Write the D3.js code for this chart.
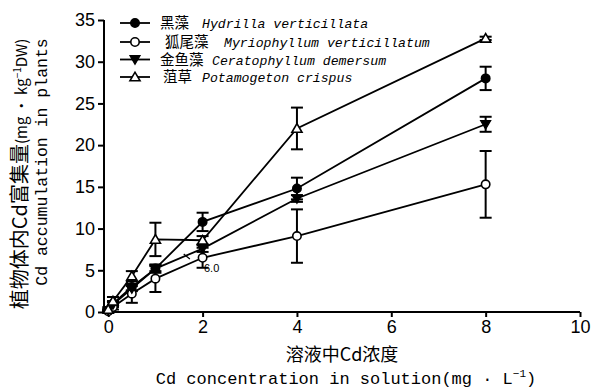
<!DOCTYPE html>
<html><head><meta charset="utf-8">
<script src="https://cdn.jsdelivr.net/npm/d3@7"></script>
<style>body{margin:0;background:#fff}svg{display:block}</style>
</head><body>
<svg id="c" width="599" height="389"></svg>
<script>
const xValues = [0, 0.1, 0.5, 1, 2, 4, 8];
const hydrilla = [0.2, 1.0, 3.0, 5.2, 10.8, 14.8, 28.0];
const hydrillaErr = [0.1, 0.3, 0.4, 0.5, 1.1, 1.3, 1.4];
const myrio = [0.1, 0.6, 2.2, 4.0, 6.5, 9.1, 15.3];
const myrioErr = [0.1, 0.3, 1.1, 1.6, 1.2, 3.2, 4.0];
const cerato = [0.2, 0.9, 2.8, 5.2, 7.6, 13.6, 22.5];
const ceratoErr = [0.1, 0.3, 0.3, 0.3, 0.4, 0.4, 0.9];
const potamo = [0.3, 1.3, 4.3, 8.7, 8.6, 22.0, 32.8];
const potamoErr = [0.2, 0.5, 0.6, 2.0, 0.5, 2.5, 0.2];
const xTicks = [0, 2, 4, 6, 8, 10];
const yTicks = [0, 5, 10, 15, 20, 25, 30, 35];
const legendCN = ["黑藻", "狐尾藻", "金鱼藻", "菹草"];
const legendLatin = ["Hydrilla verticillata", "Myriophyllum verticillatum", "Ceratophyllum demersum", "Potamogeton crispus"];
const markerTypes = ["circleFilled", "circleOpen", "triDownFilled", "triUpOpen"];

const series = [
  {vals: hydrilla, err: hydrillaErr},
  {vals: myrio, err: myrioErr},
  {vals: cerato, err: ceratoErr},
  {vals: potamo, err: potamoErr}
];

const svg = d3.select("#c");
const x = d3.scaleLinear().domain([-0.09, 10]).range([104, 580]);
const y = d3.scaleLinear().domain([0, 35]).range([312, 20]);
const mono = "'Liberation Mono','DejaVu Sans Mono',monospace";
const cjk = "'Noto Sans CJK SC',sans-serif";

// axes
const xAxis = svg.append("g").attr("transform","translate(0,312)")
  .call(d3.axisBottom(x).tickValues(xTicks).tickSize(5).tickSizeOuter(0).tickPadding(3));
const yAxis = svg.append("g").attr("transform","translate(104,0)")
  .call(d3.axisLeft(y).tickValues(yTicks).tickSize(6).tickSizeOuter(0).tickPadding(3));
[xAxis, yAxis].forEach(a => {
  a.selectAll("path,line").attr("stroke","#000").attr("stroke-width",2);
  a.selectAll("text").attr("font-family","'Liberation Sans',Arial,sans-serif").attr("font-size",18).attr("fill","#000");
});
xAxis.select(".domain").attr("d", `M104,0H${x(10)}`);
yAxis.select(".domain").attr("d", `M0,${y(0)}V${y(35)}`);

// marker drawing
function marker(g, type, cx, cy, r) {
  if (type === "circleFilled" || type === "circleOpen") {
    g.append("circle").attr("cx",cx).attr("cy",cy).attr("r",r)
      .attr("fill", type === "circleFilled" ? "#000" : "#fff").attr("stroke","#000").attr("stroke-width",1.6);
  } else if (type === "triDownFilled") {
    const s = r*1.2;
    g.append("path").attr("d",`M${cx-s},${cy-s*0.75}L${cx+s},${cy-s*0.75}L${cx},${cy+s*0.95}Z`)
      .attr("fill","#000").attr("stroke","#000").attr("stroke-width",1.2);
  } else {
    const s = r*1.2;
    g.append("path").attr("d",`M${cx-s},${cy+s*0.75}L${cx+s},${cy+s*0.75}L${cx},${cy-s*0.95}Z`)
      .attr("fill","#fff").attr("stroke","#000").attr("stroke-width",1.6);
  }
}

const line = d3.line().x(d => x(d[0])).y(d => y(d[1]));
const gErr = svg.append("g"), gLine = svg.append("g"), gMark = svg.append("g");
series.forEach((s, i) => {
  const pts = xValues.map((xv, j) => [xv, s.vals[j], s.err[j]]);
  pts.forEach(p => {
    const cx = x(p[0]);
    gErr.append("line").attr("x1",cx).attr("x2",cx).attr("y1",y(p[1]-p[2])).attr("y2",y(p[1]+p[2])).attr("stroke","#000").attr("stroke-width",2);
    [p[1]-p[2], p[1]+p[2]].forEach(v => gErr.append("line").attr("x1",cx-6).attr("x2",cx+6).attr("y1",y(v)).attr("y2",y(v)).attr("stroke","#000").attr("stroke-width",2));
  });
  gLine.append("path").attr("d", line(pts)).attr("fill","none").attr("stroke","#000").attr("stroke-width",1.8);
  pts.forEach(p => marker(gMark, markerTypes[i], x(p[0]), y(p[1]), 4.2));
});

// stray annotation
svg.append("line").attr("x1",x(1.6)).attr("y1",y(6.95)).attr("x2",x(1.73)).attr("y2",y(6.35)).attr("stroke","#000").attr("stroke-width",1.2);
svg.append("text").attr("x",x(2.03)).attr("y",y(4.8)).attr("font-family","'Liberation Sans',sans-serif").attr("font-size",11).attr("fill","#000").text("6.0");

// legend
const lg = svg.append("g");
const rowsY = [23, 42, 59.5, 77];
const cnX = [160, 165, 160, 163];
const latinX = [202, 224, 212, 202];
legendCN.forEach((cn, i) => {
  const yy = rowsY[i];
  lg.append("line").attr("x1",120).attr("x2",150).attr("y1",yy).attr("y2",yy).attr("stroke","#000").attr("stroke-width",1.8);
  marker(lg, markerTypes[i], 135, yy, 4.2);
  lg.append("text").attr("x",cnX[i]).attr("y",yy+5).attr("font-family",cjk).attr("font-size",14.5).attr("fill","#000").text(cn);
  lg.append("text").attr("x",latinX[i]).attr("y",yy+5).attr("font-family",mono).attr("font-style","italic").attr("font-size",13.2).attr("fill","#000").text(legendLatin[i]);
});

// axis titles
svg.append("text").attr("x",342).attr("y",361).attr("text-anchor","middle").attr("font-family",cjk).attr("font-size",18).attr("fill","#000").text("溶液中Cd浓度");
const xt = svg.append("text").attr("x",346).attr("y",384).attr("text-anchor","middle").attr("font-family",mono).attr("font-size",17).attr("fill","#000");
xt.append("tspan").text("Cd concentration in solution(mg · L");
xt.append("tspan").attr("font-size",11).attr("dy",-7).text("−1");
xt.append("tspan").attr("dy",7).text(")");

const yt1 = svg.append("text").attr("transform","translate(27,174) rotate(-90)").attr("text-anchor","middle").attr("fill","#000").attr("font-family",cjk);
yt1.append("tspan").attr("font-size",20).text("植物体内Cd富集量");
yt1.append("tspan").attr("font-size",15).text("(mg · kg");
yt1.append("tspan").attr("font-size",10).attr("dy",-6).text("−1");
yt1.append("tspan").attr("font-size",15).attr("dy",6).text("DW)");

svg.append("text").attr("transform","translate(47,162) rotate(-90)").attr("text-anchor","middle").attr("font-family",mono).attr("font-size",16.5).attr("fill","#000").text("Cd accumulation in plants");
</script>
</body></html>
